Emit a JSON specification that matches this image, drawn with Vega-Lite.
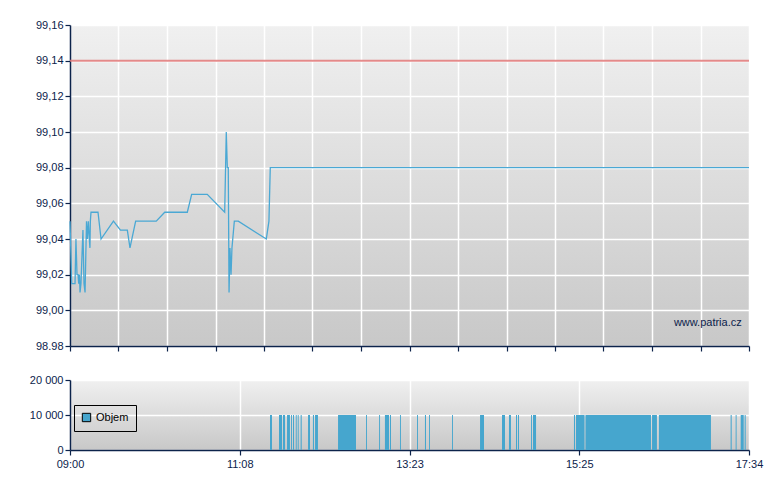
{
  "$schema": "https://vega.github.io/schema/vega-lite/v6.json",
  "padding": {"left": 29, "top": 19, "right": 14, "bottom": 10},
  "bounds": "flush",
  "spacing": 34,
  "datasets": {
    "price": [
      {"t": 0, "price": 99.05}, {"t": 1.3, "price": 99.015}, {"t": 3.8, "price": 99.015},
      {"t": 4.5, "price": 99.04}, {"t": 5.3, "price": 99.02}, {"t": 6.1, "price": 99.02},
      {"t": 6.6, "price": 99.015}, {"t": 7.2, "price": 99.02}, {"t": 7.6, "price": 99.01},
      {"t": 8.3, "price": 99.015}, {"t": 9.8, "price": 99.045}, {"t": 10.6, "price": 99.015},
      {"t": 11.4, "price": 99.01}, {"t": 12.5, "price": 99.05}, {"t": 13.1, "price": 99.04},
      {"t": 13.9, "price": 99.05}, {"t": 14.6, "price": 99.04}, {"t": 15.1, "price": 99.035},
      {"t": 15.4, "price": 99.05}, {"t": 15.9, "price": 99.055}, {"t": 21.2, "price": 99.055},
      {"t": 23.5, "price": 99.04}, {"t": 32.9, "price": 99.05}, {"t": 38.2, "price": 99.045},
      {"t": 43.4, "price": 99.045}, {"t": 45.4, "price": 99.035}, {"t": 49.7, "price": 99.05},
      {"t": 65.3, "price": 99.05}, {"t": 71.7, "price": 99.055}, {"t": 88.8, "price": 99.055},
      {"t": 92.1, "price": 99.065}, {"t": 103.9, "price": 99.065}, {"t": 117.1, "price": 99.055},
      {"t": 118.3, "price": 99.1}, {"t": 119.1, "price": 99.08}, {"t": 119.8, "price": 99.08},
      {"t": 120.4, "price": 99.01}, {"t": 121.1, "price": 99.035}, {"t": 121.9, "price": 99.02},
      {"t": 122.6, "price": 99.035}, {"t": 124.4, "price": 99.05}, {"t": 127.4, "price": 99.05},
      {"t": 148.6, "price": 99.04}, {"t": 150.6, "price": 99.05}, {"t": 151.6, "price": 99.08},
      {"t": 514, "price": 99.08}
    ],
    "volume": [
      {"start": 151.4, "end": 152.9, "vol": 10000}, {"start": 158.2, "end": 160.5, "vol": 10000},
      {"start": 161.2, "end": 162.8, "vol": 10000}, {"start": 164.3, "end": 166.5, "vol": 10000},
      {"start": 167.3, "end": 168.0, "vol": 10000}, {"start": 168.8, "end": 169.6, "vol": 10000},
      {"start": 170.9, "end": 171.6, "vol": 10000}, {"start": 172.4, "end": 173.1, "vol": 10000},
      {"start": 174.6, "end": 175.4, "vol": 10000}, {"start": 180.2, "end": 181.7, "vol": 10000},
      {"start": 183.9, "end": 184.7, "vol": 10000}, {"start": 185.5, "end": 187.7, "vol": 10000},
      {"start": 202.9, "end": 216.5, "vol": 10000}, {"start": 224.1, "end": 224.8, "vol": 10000},
      {"start": 234.0, "end": 234.7, "vol": 10000}, {"start": 238.4, "end": 241.5, "vol": 10000},
      {"start": 242.2, "end": 243.0, "vol": 10000}, {"start": 249.8, "end": 250.5, "vol": 10000},
      {"start": 262.7, "end": 263.4, "vol": 10000}, {"start": 268.7, "end": 269.5, "vol": 10000},
      {"start": 271.8, "end": 272.5, "vol": 10000}, {"start": 289.2, "end": 289.9, "vol": 10000},
      {"start": 310.4, "end": 313.4, "vol": 10000}, {"start": 327.0, "end": 329.3, "vol": 10000},
      {"start": 332.3, "end": 333.8, "vol": 10000}, {"start": 337.6, "end": 338.4, "vol": 10000},
      {"start": 339.1, "end": 339.9, "vol": 10000}, {"start": 349.0, "end": 349.7, "vol": 10000},
      {"start": 350.5, "end": 352.8, "vol": 10000}, {"start": 381.5, "end": 382.3, "vol": 10000},
      {"start": 383.0, "end": 389.5, "vol": 10000}, {"start": 390.2, "end": 439.8, "vol": 10000},
      {"start": 440.6, "end": 444.3, "vol": 10000}, {"start": 445.8, "end": 485.2, "vol": 10000},
      {"start": 500.1, "end": 500.9, "vol": 10000}, {"start": 503.9, "end": 504.6, "vol": 10000},
      {"start": 507.7, "end": 510.0, "vol": 10000}, {"start": 510.7, "end": 511.5, "vol": 10000}
    ],
    "ref": [{"level": 99.14}],
    "mark": [{"label": "www.patria.cz"}]
  },
  "vconcat": [
    {
      "width": 679,
      "height": 321,
      "layer": [
        {
          "data": {"name": "price"},
          "mark": {"type": "line", "color": "#4aa8d4", "strokeWidth": 1.3, "interpolate": "linear"},
          "encoding": {
            "x": {
              "field": "t",
              "type": "quantitative",
              "scale": {"domain": [0, 514], "nice": false, "zero": false},
              "axis": {
                "title": null,
                "labels": false,
                "values": [0, 36.714, 73.429, 110.143, 146.857, 183.571, 220.286, 257, 293.714, 330.429, 367.143, 403.857, 440.571, 477.286, 514]
              }
            },
            "y": {
              "field": "price",
              "type": "quantitative",
              "scale": {"domain": [98.98, 99.16], "nice": false, "zero": false},
              "axis": {
                "title": null,
                "labelOverlap": false,
                "values": [98.98, 99.0, 99.02, 99.04, 99.06, 99.08, 99.1, 99.12, 99.14, 99.16],
                "labelExpr": "datum.value < 98.99 ? '98.98' : replace(format(datum.value, '.2f'), '.', ',')"
              }
            }
          }
        },
        {
          "data": {"name": "ref"},
          "mark": {"type": "rule", "color": "#e07878", "strokeWidth": 2, "opacity": 0.85},
          "encoding": {
            "y": {
              "field": "level",
              "type": "quantitative",
              "axis": {
                "title": null,
                "labelOverlap": false,
                "values": [98.98, 99.0, 99.02, 99.04, 99.06, 99.08, 99.1, 99.12, 99.14, 99.16],
                "labelExpr": "datum.value < 98.99 ? '98.98' : replace(format(datum.value, '.2f'), '.', ',')"
              }
            }
          }
        },
        {
          "data": {"name": "mark"},
          "mark": {"type": "text", "align": "right", "baseline": "middle", "fontSize": 11, "color": "#0c234b", "font": "Liberation Sans"},
          "encoding": {
            "x": {
              "datum": 508.5,
              "type": "quantitative",
              "axis": {
                "title": null,
                "labels": false,
                "values": [0, 36.714, 73.429, 110.143, 146.857, 183.571, 220.286, 257, 293.714, 330.429, 367.143, 403.857, 440.571, 477.286, 514]
              }
            },
            "y": {
              "datum": 98.993,
              "type": "quantitative",
              "axis": {
                "title": null,
                "labelOverlap": false,
                "values": [98.98, 99.0, 99.02, 99.04, 99.06, 99.08, 99.1, 99.12, 99.14, 99.16],
                "labelExpr": "datum.value < 98.99 ? '98.98' : replace(format(datum.value, '.2f'), '.', ',')"
              }
            },
            "text": {"field": "label"}
          }
        }
      ]
    },
    {
      "width": 679,
      "height": 70,
      "data": {"name": "volume"},
      "mark": {"type": "rect"},
      "encoding": {
        "x": {
          "field": "start",
          "type": "quantitative",
          "scale": {"domain": [0, 514], "nice": false, "zero": false},
          "axis": {
            "title": null,
            "labelOverlap": false,
            "values": [0, 128.5, 257, 385.5, 514],
            "labelExpr": "datum.value < 1 ? '09:00' : datum.value < 130 ? '11:08' : datum.value < 260 ? '13:23' : datum.value < 390 ? '15:25' : '17:34'"
          }
        },
        "x2": {"field": "end"},
        "y": {
          "field": "vol",
          "type": "quantitative",
          "scale": {"domain": [0, 20000], "nice": false},
          "axis": {
            "title": null,
            "labelOverlap": false,
            "values": [0, 10000, 20000],
            "labelExpr": "replace(format(datum.value, ','), ',', ' ')"
          }
        },
        "y2": {"datum": 0},
        "color": {
          "datum": "Objem",
          "scale": {"range": ["#46a6ce"]},
          "legend": {
            "title": null,
            "orient": "none",
            "legendX": 4,
            "legendY": 380,
            "padding": 7,
            "strokeColor": "#000000",
            "symbolType": "square",
            "symbolSize": 70,
            "symbolStrokeColor": "#000000",
            "symbolStrokeWidth": 1,
            "symbolOpacity": 1,
            "labelFontSize": 11,
            "labelColor": "#000000",
            "labelFont": "Liberation Sans"
          }
        }
      }
    }
  ],
  "config": {
    "font": "Liberation Sans",
    "view": {
      "stroke": null,
      "fill": {
        "gradient": "linear",
        "x1": 0, "y1": 0, "x2": 0, "y2": 1,
        "stops": [
          {"offset": 0, "color": "#f0f0f0"},
          {"offset": 1, "color": "#c8c8c8"}
        ]
      }
    },
    "axis": {
      "grid": true,
      "gridColor": "#ffffff",
      "gridWidth": 1.5,
      "gridOpacity": 1,
      "domainColor": "#0c234b",
      "domainWidth": 1.5,
      "tickColor": "#0c234b",
      "tickWidth": 1.2,
      "tickSize": 5,
      "labelColor": "#0c234b",
      "labelFont": "Liberation Sans",
      "labelFontSize": 11,
      "labelPadding": 2
    },
    "axisY": {"labelFlush": false},
    "axisX": {"labelFlush": false, "labelPadding": 3}
  }
}
